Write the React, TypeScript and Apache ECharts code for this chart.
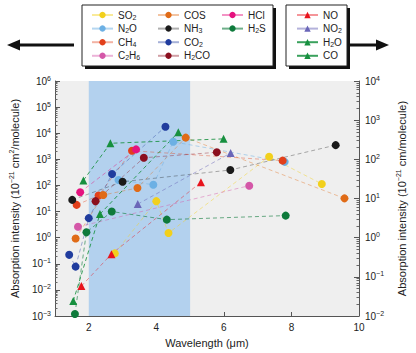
import React, { useEffect, useRef } from 'react';
import * as echarts from 'echarts';

const FONT = '"Liberation Sans", Arial, Helvetica, sans-serif';

// ---- data: [wavelength (µm), intensity] ----
// left axis (10^-21 cm^2/molecule)
const SO2 = [[2.77, 0.25], [4.0, 25], [4.36, 1.5], [7.34, 1260], [8.9, 114]];
const N2O = [[2.88, 162], [3.91, 107], [4.5, 4700], [7.8, 800]];
const CH4 = [[1.64, 18], [2.29, 41], [3.28, 2130], [7.74, 890]];
const C2H6 = [[1.68, 2.6], [6.75, 98]];
const COS = [[1.61, 0.93], [2.43, 43], [3.44, 80], [4.87, 6800], [9.57, 32]];
const NH3 = [[1.51, 28], [3.0, 139], [6.19, 390], [9.31, 3500]];
const CO2 = [[1.42, 0.22], [1.61, 0.078], [2.0, 5.6], [2.69, 275], [4.27, 17800]];
const H2CO = [[2.2, 25], [3.63, 1150], [5.79, 1860]];
const HCl = [[1.745, 55], [3.4, 2400]];
const H2S = [[1.59, 0.0012], [1.93, 1.6], [2.68, 10], [4.31, 4.9], [7.83, 7]];
// right axis (10^-21 cm/molecule)
const NO = [[1.78, 0.058], [2.67, 0.38], [5.32, 26]];
const NO2 = [[3.45, 7.2], [6.2, 145]];
const H2O = [[1.84, 29], [2.64, 257], [5.99, 333]];
const CO = [[1.54, 0.024], [2.33, 4], [4.65, 490]];

const xLabelTicks = [2, 4, 6, 8, 10];
const xMarkTicks = [2, 4, 6, 8];
const leftDecades = [-3, -2, -1, 0, 1, 2, 3, 4, 5, 6];
const rightDecades = [-2, -1, 0, 1, 2, 3, 4];
const band = [2, 5];

const leftSeries = [
  { name: 'SO2', data: SO2, color: '#f2d01c', op: 0.45 },
  { name: 'N2O', data: N2O, color: '#6cb0e4', op: 0.5 },
  { name: 'CH4', data: CH4, color: '#e2401b', op: 0.4 },
  { name: 'C2H6', data: C2H6, color: '#d457a8', op: 0.45 },
  { name: 'COS', data: COS, color: '#e06b17', op: 0.4 },
  { name: 'NH3', data: NH3, color: '#1a1a1a', op: 0.35 },
  { name: 'CO2', data: CO2, color: '#203c9e', op: 0.4 },
  { name: 'H2CO', data: H2CO, color: '#8b0f1f', op: 0.4 },
  { name: 'HCl', data: HCl, color: '#e5127e', op: 0.45 },
  { name: 'H2S', data: H2S, color: '#0e7a3b', op: 0.6 },
];
const rightSeries = [
  { name: 'NO', data: NO, color: '#e8141c', op: 0.45 },
  { name: 'NO2', data: NO2, color: '#6a66b8', op: 0.5 },
  { name: 'H2O', data: H2O, color: '#17903f', op: 0.85 },
  { name: 'CO', data: CO, color: '#17903f', op: 0.85 },
];

const minorTicks = (decs: number[]) => {
  const out: number[] = [];
  for (let i = 0; i < decs.length - 1; i++) {
    for (let k = 2; k <= 9; k++) out.push(decs[i] + Math.log10(k));
  }
  return out;
};

const sub = (name: string) => name.replace(/(\d+)/g, '{s|$1}');
const expLabel = (v: number) => {
  const e = Math.round(Math.log10(v));
  return '10{sup|' + (e < 0 ? '\u2212' + Math.abs(e) : String(e)) + '}';
};

const labelRich = {
  sup: { fontSize: 7, lineHeight: 8, padding: [0, 0, 6, 0], fontFamily: FONT, color: '#222' },
};

export default function App() {
  const ref = useRef<HTMLDivElement>(null);
  useEffect(() => {
    if (!ref.current) return;
    const chart = echarts.init(ref.current, undefined, { renderer: 'svg' });

    const mkSeries = (s: any, yIdx: number, symbol: string) => ({
      type: 'line',
      name: s.name,
      yAxisIndex: yIdx,
      data: s.data,
      symbol,
      symbolSize: symbol === 'circle' ? 8 : 8,
      itemStyle: { color: s.color },
      lineStyle: { color: s.color, width: 1, type: [4, 3], opacity: s.op },
      z: 3,
    });

    const legendBase = {
      orient: 'vertical',
      top: 9,
      padding: 0,
      itemWidth: 21,
      itemHeight: 8,
      itemGap: 1.6,
      selectedMode: false,
      formatter: sub,
      lineStyle: { type: 'solid' },
      textStyle: {
        fontFamily: FONT,
        fontSize: 10,
        color: '#222',
        lineHeight: 12,
        rich: { s: { fontSize: 7, lineHeight: 8, padding: [4, 0, 0, 0], fontFamily: FONT, color: '#222' } },
      },
    };

    const option: any = {
      animation: false,
      textStyle: { fontFamily: FONT },
      grid: {
        left: 51,
        right: 51,
        top: 81,
        bottom: 36,
        show: true,
        backgroundColor: '#efefef',
        borderWidth: 0,
      },
      legend: [
        { ...legendBase, left: 91, data: ['SO2', 'N2O', 'CH4', 'C2H6'] },
        { ...legendBase, left: 157, data: ['COS', 'NH3', 'CO2', 'H2CO'] },
        { ...legendBase, left: 221, data: ['HCl', 'H2S'] },
        { ...legendBase, left: 296, data: ['NO', 'NO2', 'H2O', 'CO'] },
      ],
      graphic: [
        { type: 'rect', shape: { x: 85, y: 8, width: 191, height: 61 }, style: { fill: '#111' }, z: 0 },
        { type: 'rect', shape: { x: 82, y: 5, width: 191, height: 61 }, style: { fill: '#fff', stroke: '#222', lineWidth: 1 }, z: 1 },
        { type: 'rect', shape: { x: 289, y: 8, width: 61, height: 61 }, style: { fill: '#111' }, z: 0 },
        { type: 'rect', shape: { x: 286, y: 5, width: 61, height: 61 }, style: { fill: '#fff', stroke: '#222', lineWidth: 1 }, z: 1 },
        { type: 'rect', shape: { x: 18, y: 43.5, width: 56, height: 3 }, style: { fill: '#111' } },
        { type: 'polygon', shape: { points: [[7, 45], [20, 39.5], [20, 50.5]] }, style: { fill: '#111' } },
        { type: 'rect', shape: { x: 350, y: 43.5, width: 28, height: 3 }, style: { fill: '#111' } },
        { type: 'polygon', shape: { points: [[389, 45], [376, 39.5], [376, 50.5]] }, style: { fill: '#111' } },
      ],
      xAxis: {
        type: 'value',
        min: 1,
        max: 10,
        name: 'Wavelength (\u03bcm)',
        nameLocation: 'middle',
        nameGap: 21,
        nameTextStyle: { fontFamily: FONT, fontSize: 11, color: '#222' },
        axisLine: { onZero: false, lineStyle: { color: '#555', width: 1 } },
        axisTick: { inside: true, length: 4, customValues: xMarkTicks, lineStyle: { color: '#555' } },
        axisLabel: { customValues: xLabelTicks, fontFamily: FONT, fontSize: 10, color: '#222', margin: 6 },
        splitLine: { show: false },
      },
      yAxis: [
        {
          type: 'log',
          logBase: 10,
          min: Math.pow(10, leftDecades[0]),
          max: Math.pow(10, leftDecades[leftDecades.length - 1]),
          splitNumber: leftDecades.length - 1,
          position: 'left',
          name: 'Absorption intensity (10{sup|\u221221} cm{sup|2}/molecule)',
          nameLocation: 'middle',
          nameGap: 32,
          nameTextStyle: { fontFamily: FONT, fontSize: 11, color: '#222', rich: labelRich },
          axisLine: { show: true, lineStyle: { color: '#555', width: 1 } },
          axisTick: { inside: true, length: 5, lineStyle: { color: '#555' } },
          axisLabel: { formatter: expLabel, rich: labelRich, fontFamily: FONT, fontSize: 10, color: '#222', margin: 4 },
          splitLine: { show: false },
        },
        {
          type: 'log',
          logBase: 10,
          min: Math.pow(10, rightDecades[0]),
          max: Math.pow(10, rightDecades[rightDecades.length - 1]),
          splitNumber: rightDecades.length - 1,
          position: 'right',
          name: 'Absorption intensity (10{sup|\u221221} cm/molecule)',
          nameLocation: 'middle',
          nameGap: 33,
          nameTextStyle: { fontFamily: FONT, fontSize: 11, color: '#222', rich: labelRich },
          axisLine: { show: true, lineStyle: { color: '#555', width: 1 } },
          axisTick: { inside: true, length: 5, lineStyle: { color: '#555' } },
          axisLabel: { formatter: expLabel, rich: labelRich, fontFamily: FONT, fontSize: 10, color: '#222', margin: 6 },
          splitLine: { show: false },
        },
        {
          type: 'value',
          min: leftDecades[0],
          max: leftDecades[leftDecades.length - 1],
          position: 'left',
          axisLine: { show: false },
          axisLabel: { show: false },
          splitLine: { show: false },
          axisTick: { show: true, inside: true, length: 2.5, customValues: minorTicks(leftDecades), lineStyle: { color: '#666' } },
        },
        {
          type: 'value',
          min: rightDecades[0],
          max: rightDecades[rightDecades.length - 1],
          position: 'right',
          axisLine: { show: false },
          axisLabel: { show: false },
          splitLine: { show: false },
          axisTick: { show: true, inside: true, length: 2.5, customValues: minorTicks(rightDecades), lineStyle: { color: '#666' } },
        },
      ],
      series: [
        {
          type: 'line',
          name: 'band',
          data: [],
          yAxisIndex: 0,
          silent: true,
          z: 1,
          markArea: {
            silent: true,
            itemStyle: { color: '#b3d1ee' },
            label: { show: false },
            data: [[{ xAxis: band[0] }, { xAxis: band[1] }]],
          },
        },
        ...leftSeries.map((s) => mkSeries(s, 0, 'circle')),
        ...rightSeries.map((s) => mkSeries(s, 1, 'triangle')),
      ],
    };
    chart.setOption(option);
    return () => chart.dispose();
  }, []);

  return (
    <div
      ref={ref}
      style={{ position: 'fixed', left: 0, top: 0, width: 416, height: 353, background: '#fff' }}
    />
  );
}
